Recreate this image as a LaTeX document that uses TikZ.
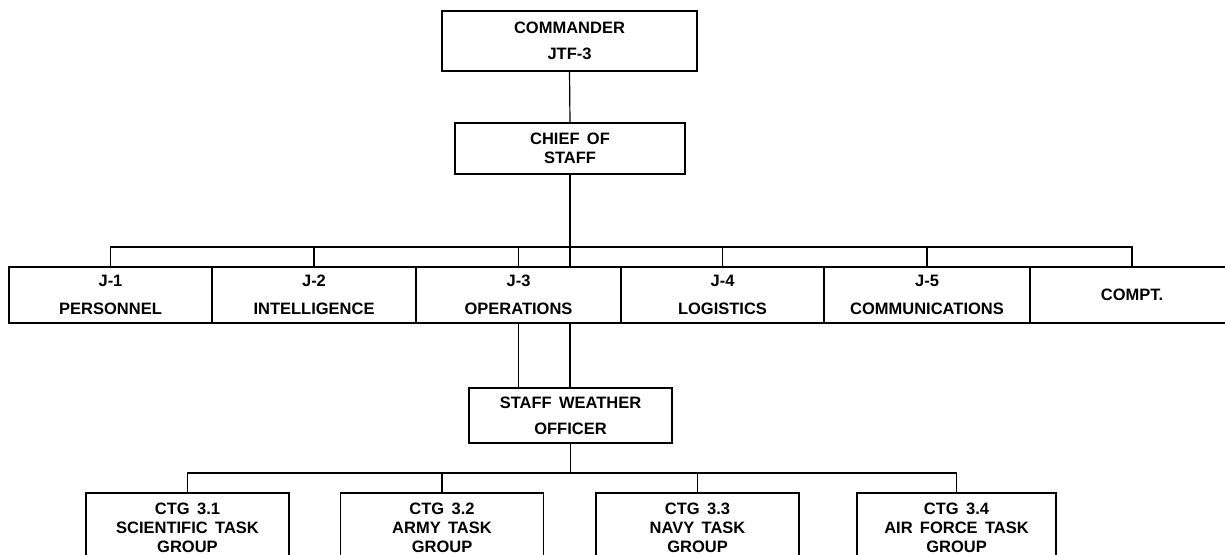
\documentclass[tikz,border=0pt]{standalone}
\usepackage{fontspec}
\setmainfont[WordSpace=1.6]{Liberation Sans}
\begin{document}
\begin{tikzpicture}[x=1pt,y=-1pt,
  line width=1.2pt,
  box/.style={draw, line width=1.2pt, inner sep=0pt, outer sep=0pt, align=center},
  big/.style={font=\bfseries\fontsize{16.5}{26}\selectfont},
  tight/.style={font=\bfseries\fontsize{16.5}{19}\selectfont},
  jstyle/.style={box, font=\bfseries\fontsize{16.5}{28}\selectfont, minimum height=56pt},
  ctg/.style={box, tight, minimum width=203pt, minimum height=70pt},
  conn/.style={line width=1.2pt}]
\useasboundingbox (0,0) rectangle (1225,554);
\fill[white] (0,0) rectangle (1225,554);
\clip (0,0) rectangle (1225,554);

\node[box, big, minimum width=255pt, minimum height=60pt] (cmd) at (569.5,41) {COMMANDER\\JTF-3};
\node[box, tight, minimum width=230pt, minimum height=51pt] (cos) at (570,148.5) {CHIEF OF\\STAFF};

\node[jstyle, minimum width=203pt] (j1) at (110.5,295) {J-1\\PERSONNEL};
\node[jstyle, minimum width=204pt] (j2) at (314,295) {J-2\\INTELLIGENCE};
\node[jstyle, minimum width=205pt] (j3) at (518.5,295) {J-3\\OPERATIONS};
\node[jstyle, minimum width=203pt] (j4) at (722.5,295) {J-4\\LOGISTICS};
\node[jstyle, minimum width=206pt] (j5) at (927,295) {J-5\\COMMUNICATIONS};
\node[jstyle, minimum width=204pt] (compt) at (1132,295) {COMPT.};

\node[box, big, minimum width=203pt, minimum height=55pt] (swo) at (570.5,415.5) {STAFF WEATHER\\OFFICER};

\node[ctg] (c1) at (187.5,528) {CTG 3.1\\SCIENTIFIC TASK\\GROUP};
\node[ctg] (c2) at (442,528) {CTG 3.2\\ARMY TASK\\GROUP};
\node[ctg] (c3) at (697.5,528) {CTG 3.3\\NAVY TASK\\GROUP};
\node[ctg, minimum width=199pt] (c4) at (956.5,528) {CTG 3.4\\AIR FORCE TASK\\GROUP};

\coordinate (busA) at (0,247);
\coordinate (busB) at (0,473);

\draw[conn] (cmd.south) -- (cos.north);
\draw[conn] (cos.south) -- (cos.south |- j3.north);
\draw[conn] (j1.north) -- (j1.north |- busA) -- (compt.north |- busA) -- (compt.north);
\foreach \n in {j2,j3,j4,j5} \draw[conn] (\n.north) -- (\n.north |- busA);

\draw[conn] (j3.south) -- (j3.south |- swo.north);
\draw[conn] (cos.south |- j3.south) -- (cos.south |- swo.north);

\draw[conn] (swo.south) -- (swo.south |- busB);
\draw[conn] (c1.north) -- (c1.north |- busB) -- (c4.north |- busB) -- (c4.north);
\foreach \n in {c2,c3} \draw[conn] (\n.north) -- (\n.north |- busB);
\end{tikzpicture}
\end{document}
